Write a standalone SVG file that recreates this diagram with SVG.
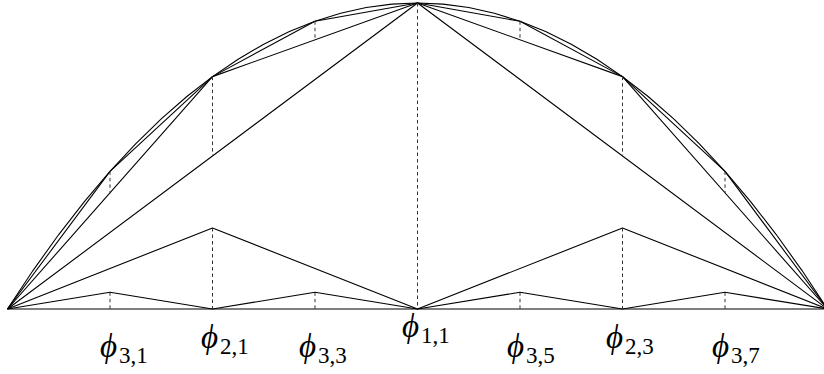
<svg xmlns="http://www.w3.org/2000/svg" width="824" height="374" viewBox="0 0 824 374">
<style>
.s{fill:none;stroke:#000;stroke-width:1.1;stroke-linejoin:round}
.d{fill:none;stroke:#333;stroke-width:1;stroke-dasharray:3.5 3}
.phi{font-family:"Liberation Serif","DejaVu Serif",serif;font-style:italic;font-size:33px;fill:#000}
.sub{font-family:"Liberation Serif","DejaVu Serif",serif;font-size:23px;fill:#000}
</style>
<rect width="824" height="374" fill="#fff"/>
<g id="connectors">
<g id="curve">
<polyline class="s" points="7.5,309 33.13,270.32 58.75,234.54 84.38,201.58 110,171.36 135.63,143.82 161.25,118.89 186.88,96.51 212.5,76.63 238.13,59.2 263.75,44.18 289.38,31.53 315,21.23 340.63,13.24 366.25,7.54 391.88,4.14 417.5,3 443.13,4.14 468.75,7.54 494.38,13.24 520,21.23 545.63,31.53 571.25,44.18 596.88,59.2 622.5,76.63 648.13,96.51 673.75,118.89 699.38,143.82 725,171.36 750.63,201.58 776.25,234.54 801.88,270.32 827.5,309"/>
</g>
<g id="interp1"><polyline class="s" points="7.5,309 417.5,3 827.5,309"/></g>
<g id="interp2"><polyline class="s" points="7.5,309 212.5,76.63 417.5,3 622.5,76.63 827.5,309"/></g>
<g id="interp3"><polyline class="s" points="7.5,309 110,171.36 212.5,76.63 315,21.23 417.5,3 520,21.23 622.5,76.63 725,171.36 827.5,309"/></g>
<g id="baseline"><line class="s" x1="7.5" y1="309" x2="827.5" y2="309"/></g>
<g id="hats2"><polyline class="s" points="7.5,309 212.5,228 417.5,309 622.5,228 827.5,309"/></g>
<g id="hats3"><polyline class="s" points="7.5,309 110,292.3 212.5,309 315,292.3 417.5,309 520,292.3 622.5,309 725,292.3 827.5,309"/></g>
<g id="surplus">
<line class="d" x1="417.5" y1="3" x2="417.5" y2="309"/>
<line class="d" x1="212.5" y1="76.63" x2="212.5" y2="156"/>
<line class="d" x1="622.5" y1="76.63" x2="622.5" y2="156"/>
<line class="d" x1="110" y1="171.36" x2="110" y2="192.8"/>
<line class="d" x1="315" y1="21.23" x2="315" y2="39.8"/>
<line class="d" x1="520" y1="21.23" x2="520" y2="39.8"/>
<line class="d" x1="725" y1="171.36" x2="725" y2="192.8"/>
<line class="d" x1="212.5" y1="228" x2="212.5" y2="309"/>
<line class="d" x1="622.5" y1="228" x2="622.5" y2="309"/>
<line class="d" x1="110" y1="292.3" x2="110" y2="309"/>
<line class="d" x1="315" y1="292.3" x2="315" y2="309"/>
<line class="d" x1="520" y1="292.3" x2="520" y2="309"/>
<line class="d" x1="725" y1="292.3" x2="725" y2="309"/>
</g>
</g>
<g id="phi31"><text class="phi" x="100" y="357">ϕ</text><text class="sub" x="119" y="363">3,1</text></g>
<g id="phi21"><text class="phi" x="201" y="347.5">ϕ</text><text class="sub" x="220" y="353.5">2,1</text></g>
<g id="phi33"><text class="phi" x="299" y="357">ϕ</text><text class="sub" x="318" y="363">3,3</text></g>
<g id="phi11"><text class="phi" x="402" y="336.5">ϕ</text><text class="sub" x="421" y="342.5">1,1</text></g>
<g id="phi35"><text class="phi" x="507" y="357">ϕ</text><text class="sub" x="526" y="363">3,5</text></g>
<g id="phi23"><text class="phi" x="606" y="348">ϕ</text><text class="sub" x="625" y="354">2,3</text></g>
<g id="phi37"><text class="phi" x="712" y="357">ϕ</text><text class="sub" x="731" y="363">3,7</text></g>
</svg>
